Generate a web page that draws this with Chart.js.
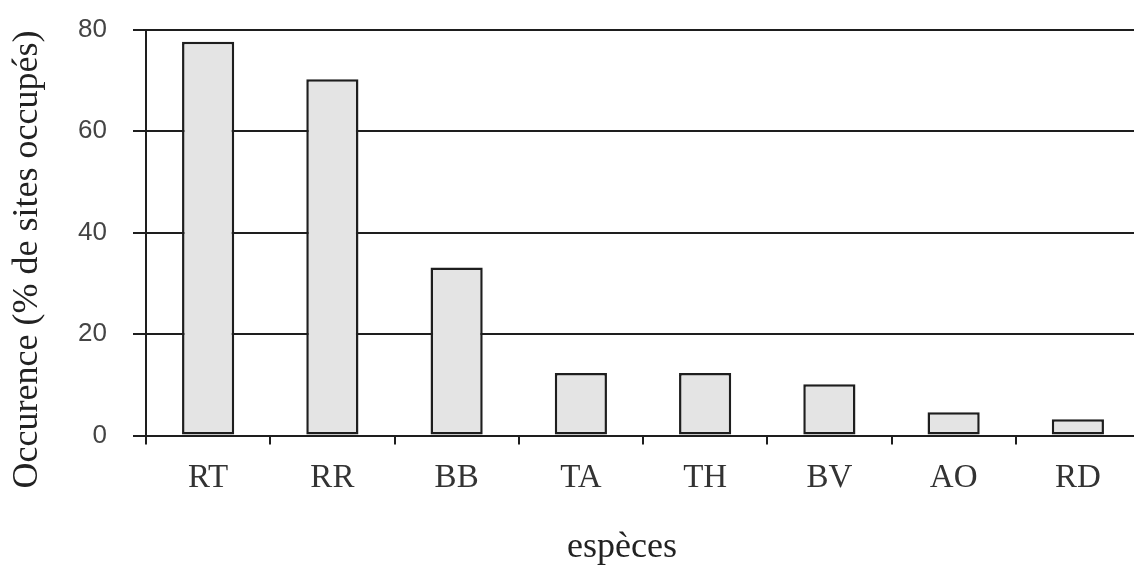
<!DOCTYPE html>
<html>
<head>
<meta charset="utf-8">
<script src="https://cdn.jsdelivr.net/npm/chart.js@4"></script>
<style>
  html, body { margin: 0; padding: 0; background: #fff; overflow: hidden; }
</style>
</head>
<body>
<canvas id="chart" width="1142" height="571"></canvas>
<script>
// espèces et occurrence (% de sites occupés)
const especes = ["RT", "RR", "BB", "TA", "TH", "BV", "AO", "RD"];
const occurence = [77.6, 70.2, 33.1, 12.3, 12.3, 10.1, 4.6, 3.2];
const yTicks = [0, 20, 40, 60, 80];
const xTitle = "espèces";
const yTitle = "Occurence (% de sites occupés)";

// titres des axes, un peu décalés comme sur la figure d'origine
const axisTitles = {
  id: "axisTitles",
  afterDraw(chart) {
    const { ctx, chartArea } = chart;
    ctx.save();
    ctx.fillStyle = "#222";
    ctx.font = "36px 'Liberation Serif'";
    ctx.textAlign = "center";
    ctx.textBaseline = "middle";
    ctx.fillText(xTitle, chartArea.left + 476, 548);
    ctx.translate(28, chartArea.top + 230);
    ctx.rotate(-Math.PI / 2);
    ctx.fillText(yTitle, 0, 0);
    ctx.restore();
  },
};

const ctx = document.getElementById("chart");

new Chart(ctx, {
  type: "bar",
  data: {
    labels: especes,
    datasets: [{
      data: occurence,
      backgroundColor: "#e4e4e4",
      borderColor: "#1e1e1e",
      borderWidth: 2.5,
      borderSkipped: false,
      categoryPercentage: 1,
      barPercentage: 0.42,
    }],
  },
  options: {
    responsive: false,
    animation: false,
    layout: { padding: { top: 29.5, right: 2, left: 0, bottom: 0 } },
    plugins: { legend: { display: false }, tooltip: { enabled: false } },
    scales: {
      x: {
        grid: { drawOnChartArea: false, color: "#1e1e1e", lineWidth: 2, tickLength: 9 },
        border: { color: "#1e1e1e", width: 2 },
        ticks: {
          color: "#333",
          padding: 14,
          font: { family: "Liberation Serif", size: 33 },
        },
        afterFit: (scale) => { scale.height = 135.5; },
      },
      y: {
        min: 0,
        max: 80,
        afterBuildTicks: (scale) => { scale.ticks = yTicks.map((v) => ({ value: v })); },
        grid: { color: "#1e1e1e", lineWidth: 2, tickLength: 13 },
        border: { color: "#1e1e1e", width: 2 },
        ticks: {
          color: "#444",
          padding: 26,
          font: { family: "Liberation Sans", size: 26 },
        },
        afterFit: (scale) => {
          scale.width = 146;
          scale.paddingTop = 16;
          scale.paddingBottom = 16;
        },
      },
    },
  },
  plugins: [axisTitles],
});
</script>
</body>
</html>
